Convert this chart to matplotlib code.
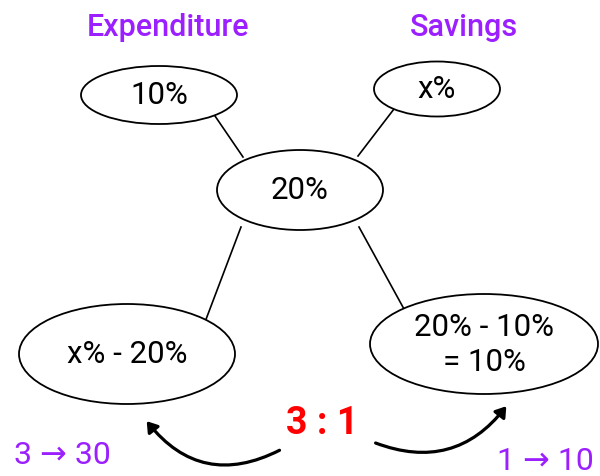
import matplotlib.pyplot as plt
from matplotlib.patches import Ellipse, FancyArrowPatch

plt.rcParams['font.family'] = ['Roboto', 'DejaVu Sans']

# ---------------Data---------------
headers = ['Expenditure', 'Savings']
node_labels = ['10%', 'x%', '20%', 'x% - 20%', '20% - 10%\n= 10%']
ratio_label = '3 : 1'
side_labels = ['3 \u2192 30', '1 \u2192 10']

# node geometry (pixel coords: cx, cy, width, height)
nodes = [(159, 96, 156, 58), (437, 90, 126, 55), (300, 191, 166, 80),
         (127, 355, 216, 100), (484, 345, 228, 100)]
links = [((215, 117), (243, 158)), ((394, 110), (358, 157)),
         ((241, 228), (205, 323)), ((359, 228), (404, 310))]

purple = '#9b1fff'

# -----------------------Plot-----------------------
fig = plt.figure(figsize=(6, 4.77), dpi=100)
ax = fig.add_axes([0, 0, 1, 1])
ax.set_xlim(0, 600)
ax.set_ylim(477, 0)
ax.axis('off')

for (a, b) in links:
    ax.plot([a[0], b[0]], [a[1], b[1]], color='black', lw=1.2, zorder=1)

for (cx, cy, w, h), lab in zip(nodes, node_labels):
    ax.add_patch(Ellipse((cx, cy), w, h, facecolor='white', edgecolor='black', lw=1.3, zorder=2))
    ax.text(cx, cy, lab, ha='center', va='center', fontsize=22.5, linespacing=1.3, zorder=3)

ax.text(168, 28, headers[0], ha='center', va='center', fontsize=22, color=purple, fontweight='medium')
ax.text(464, 28, headers[1], ha='center', va='center', fontsize=22, color=purple, fontweight='medium')

ax.text(322, 424, ratio_label, ha='center', va='center', fontsize=27, color='#ff0000', fontweight='bold')

ax.text(62, 456, side_labels[0], ha='center', va='center', fontsize=23, color=purple)
ax.text(545, 462, side_labels[1], ha='center', va='center', fontsize=23, color=purple)

ax.add_patch(FancyArrowPatch((282, 450), (145, 420), connectionstyle='arc3,rad=-0.42',
                             arrowstyle='-|>,head_length=6,head_width=4', lw=2.3, color='black'))
ax.add_patch(FancyArrowPatch((373, 443), (508, 405), connectionstyle='arc3,rad=0.38',
                             arrowstyle='-|>,head_length=6,head_width=4', lw=2.3, color='black'))

fig.savefig('out.png', dpi=100)
